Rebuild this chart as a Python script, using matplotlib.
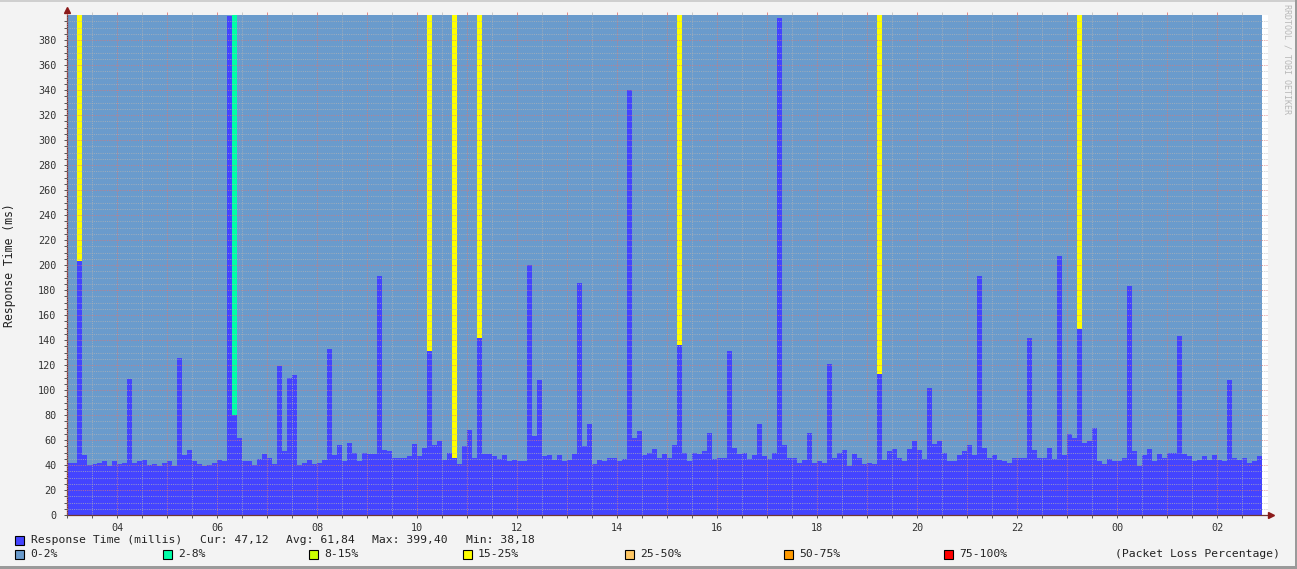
import numpy as np
import matplotlib
matplotlib.use("Agg")
import matplotlib.pyplot as plt
from matplotlib.patches import Rectangle
from matplotlib.ticker import FixedLocator, FuncFormatter

# ---------------- data ----------------
start_hour = 3.0          # first sample 03:00
step_hours = 0.1          # 6 minute bins

response_ms = [
    42, 42, 203, 48, 40, 41, 42, 43, 39, 43,
    41, 42, 109, 42, 43, 44, 40, 41, 39, 42,
    43, 39, 126, 48, 52, 43, 41, 39, 40, 42,
    44, 43, 399.4, 80, 62, 43, 43, 40, 45, 49,
    46, 41, 119, 51, 110, 112, 40, 42, 44, 41,
    42, 44, 133, 48, 56, 43, 58, 50, 43, 50,
    49, 49, 191, 52, 51, 46, 46, 46, 47, 57,
    47, 54, 131, 56, 59, 44, 50, 46, 41, 55,
    68, 46, 142, 49, 49, 47, 45, 48, 43, 44,
    43, 43, 200, 63, 108, 47, 48, 44, 48, 43,
    44, 49, 186, 55, 73, 41, 44, 43, 46, 46,
    43, 45, 340, 62, 67, 48, 50, 53, 46, 49,
    46, 56, 136, 50, 43, 50, 49, 51, 66, 45,
    46, 46, 131, 54, 49, 50, 45, 48, 73, 47,
    45, 50, 398, 56, 46, 46, 42, 44, 66, 42,
    43, 42, 121, 46, 50, 52, 39, 49, 46, 41,
    42, 41, 113, 44, 51, 53, 46, 43, 53, 59,
    52, 45, 102, 57, 59, 50, 43, 43, 48, 51,
    56, 48, 191, 54, 46, 48, 44, 43, 42, 46,
    46, 46, 142, 52, 46, 46, 54, 45, 207, 48,
    65, 62, 149, 58, 59, 70, 43, 41, 45, 43,
    43, 46, 183, 51, 39, 48, 53, 43, 49, 46,
    50, 50, 143, 49, 47, 43, 44, 47, 44, 48,
    44, 43, 108, 46, 44, 46, 42, 43, 47,
]

loss_pct = [
    0, 0, 20, 0, 0, 0, 0, 0, 0, 0,
    0, 0, 0, 0, 0, 0, 0, 0, 0, 0,
    0, 0, 0, 0, 0, 0, 0, 0, 0, 0,
    0, 0, 0, 5, 0, 0, 0, 0, 0, 0,
    0, 0, 0, 0, 0, 0, 0, 0, 0, 0,
    0, 0, 0, 0, 0, 0, 0, 0, 0, 0,
    0, 0, 0, 0, 0, 0, 0, 0, 0, 0,
    0, 0, 20, 0, 0, 0, 0, 20, 0, 0,
    0, 0, 20, 0, 0, 0, 0, 0, 0, 0,
    0, 0, 0, 0, 0, 0, 0, 0, 0, 0,
    0, 0, 0, 0, 0, 0, 0, 0, 0, 0,
    0, 0, 0, 0, 0, 0, 0, 0, 0, 0,
    0, 0, 20, 0, 0, 0, 0, 0, 0, 0,
    0, 0, 0, 0, 0, 0, 0, 0, 0, 0,
    0, 0, 0, 0, 0, 0, 0, 0, 0, 0,
    0, 0, 0, 0, 0, 0, 0, 0, 0, 0,
    0, 0, 20, 0, 0, 0, 0, 0, 0, 0,
    0, 0, 0, 0, 0, 0, 0, 0, 0, 0,
    0, 0, 0, 0, 0, 0, 0, 0, 0, 0,
    0, 0, 0, 0, 0, 0, 0, 0, 0, 0,
    0, 0, 20, 0, 0, 0, 0, 0, 0, 0,
    0, 0, 0, 0, 0, 0, 0, 0, 0, 0,
    0, 0, 0, 0, 0, 0, 0, 0, 0, 0,
    0, 0, 0, 0, 0, 0, 0, 0, 0,
]

loss_bins = [0, 2, 8, 15, 25, 50, 75, 100]
loss_labels = ["0-2%", "2-8%", "8-15%", "15-25%", "25-50%", "50-75%", "75-100%"]
loss_colors = ["#6a9bcc", "#00ffa8", "#ccff00", "#ffff00", "#ffc865", "#ff9a00", "#ff0000"]
response_color = "#4444ff"

stats_labels = ["Cur: 47,12", "Avg: 61,84", "Max: 399,40", "Min: 38,18"]
y_max = 400
y_major = list(range(0, 400, 20))
y_minor = list(range(0, 400, 5))
x_major_hours = list(range(3, 27))
x_minor_hours = [h + 0.5 for h in range(3, 27)]

# ---------------- figure ----------------
W, H = 1297, 569
MONO = "DejaVu Sans Mono"
plt.rcParams["font.family"] = [MONO]

fig = plt.figure(figsize=(W / 100, H / 100), dpi=100, facecolor="#f3f3f3")
ax = fig.add_axes([67 / W, (H - 515) / H, (1268 - 67) / W, (515 - 15) / H])
ax.set_facecolor("white")

n = len(response_ms)
times = start_hour + step_hours * np.arange(n)


def loss_color(p):
    for i in range(len(loss_bins) - 1):
        if p <= loss_bins[i + 1]:
            return loss_colors[i]
    return loss_colors[-1]


bg_cols = [loss_color(p) for p in loss_pct]
ax.bar(times, [y_max] * n, width=step_hours, align="edge", color=bg_cols,
       linewidth=0, antialiased=False, zorder=1)
ax.bar(times, response_ms, width=step_hours, align="edge", color=response_color,
       linewidth=0, antialiased=False, zorder=1.1)

ax.set_xlim(start_hour, start_hour + 1201 / 50)
ax.set_ylim(0, y_max)

ax.yaxis.set_major_locator(FixedLocator(y_major))
ax.yaxis.set_minor_locator(FixedLocator(y_minor))
ax.xaxis.set_major_locator(FixedLocator(x_major_hours))
ax.xaxis.set_minor_locator(FixedLocator(x_minor_hours))
ax.xaxis.set_major_formatter(FuncFormatter(
    lambda v, p: f"{int(round(v)) % 24:02d}" if int(round(v)) % 2 == 0 else ""))
ax.yaxis.set_major_formatter(FuncFormatter(lambda v, p: f"{int(v)}"))

ax.set_axisbelow(False)
ax.grid(which="minor", color="#b4b4b4", linewidth=0.72, linestyle=(0, (1, 1.2)), alpha=0.7)
ax.grid(which="major", color="#d87878", linewidth=0.72, linestyle=(0, (1, 1.2)), alpha=0.75)

for s in ["top", "right"]:
    ax.spines[s].set_visible(False)
axis_col = "#6e3434"
ax.spines["left"].set_color(axis_col)
ax.spines["bottom"].set_color(axis_col)
ax.spines["left"].set_linewidth(0.9)
ax.spines["bottom"].set_linewidth(0.9)

ax.tick_params(which="both", direction="out", length=2.5, width=0.7, color="#555555",
               labelsize=7.3, labelcolor="#333333")
ax.tick_params(axis="y", which="both", pad=5)
ax.tick_params(axis="x", which="both", pad=3)

# small ticks above the plot top (like rrdtool grid overhang)
top = ax.secondary_xaxis("top")
top.xaxis.set_major_locator(FixedLocator(x_major_hours))
top.xaxis.set_minor_locator(FixedLocator(x_minor_hours))
top.tick_params(which="major", length=2.5, width=0.7, color="#e08a8a", labeltop=False)
top.tick_params(which="minor", length=2.5, width=0.7, color="#c8c8c8", labeltop=False)
top.spines["top"].set_visible(False)

# arrows at axis ends
ax.plot([0], [1 + 5 / 500], marker="^", markersize=5, color="#8b1a1a",
        transform=ax.transAxes, clip_on=False, zorder=5)
ax.plot([1 + 3 / 1201], [0], marker=">", markersize=5, color="#8b1a1a",
        transform=ax.transAxes, clip_on=False, zorder=5)

# y label
fig.text(10 / W, (H - 265) / H, "Response Time (ms)", rotation=90, ha="center", va="center",
         fontsize=8.3, color="#222222", family=MONO)

# watermark
fig.text(1287 / W, 1 - 4 / H, "RRDTOOL / TOBI OETIKER", rotation=270, ha="center", va="top",
         fontsize=6.0, color="#b8b8b8", family=MONO)

# frame
fig.add_artist(Rectangle((0, 1 - 2 / H), 1, 2 / H, transform=fig.transFigure,
                         facecolor="#cfcfcf", edgecolor="none"))
fig.add_artist(Rectangle((0, 0), 1, 3 / H, transform=fig.transFigure,
                         facecolor="#9a9a9a", edgecolor="none"))
fig.add_artist(Rectangle((1 - 2 / W, 0), 2 / W, 1, transform=fig.transFigure,
                         facecolor="#9a9a9a", edgecolor="none"))


def legend_box(xpx, ycpx, color):
    fig.add_artist(Rectangle((xpx / W, (H - ycpx - 4.5) / H), 8.5 / W, 9 / H,
                             transform=fig.transFigure, facecolor=color,
                             edgecolor="black", linewidth=0.8))


def legend_text(xpx, ycpx, s):
    fig.text(xpx / W, (H - ycpx) / H, s, ha="left", va="center", fontsize=8.2,
             color="#222222", family=MONO)


# legend row 1
legend_box(15, 540, response_color)
legend_text(31, 540, "Response Time (millis)")
for xs, s in zip([200, 286, 372, 466], stats_labels):
    legend_text(xs, 540, s)

# legend row 2
box_x = [15, 163, 309, 463, 625, 784, 944]
for bx, lab, col in zip(box_x, loss_labels, loss_colors):
    legend_box(bx, 554, col)
    legend_text(bx + 15, 554, lab)
fig.text(1280 / W, (H - 554) / H, "(Packet Loss Percentage)", ha="right", va="center",
         fontsize=8.2, color="#222222", family=MONO)

fig.savefig("out.png", dpi=100, facecolor=fig.get_facecolor())
